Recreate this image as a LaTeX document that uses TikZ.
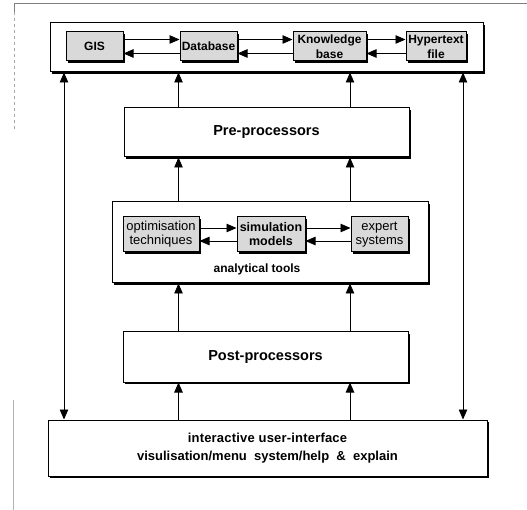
\documentclass[tikz,border=0pt]{standalone}
\usepackage{fontspec}
\setmainfont{Liberation Sans}
\newfontfamily\lsfont[LetterSpace=1.5]{Liberation Sans}
\usetikzlibrary{arrows.meta,shadows}
\begin{document}
\begin{tikzpicture}[x=1pt,y=-1pt,
  box/.style={draw=black,line width=1pt,fill=white,inner sep=0pt,
    drop shadow={shadow xshift=1.6pt,shadow yshift=-1.6pt,fill=black,opacity=1}},
  gbox/.style={box,fill=gray!30,align=center,font=\fontsize{12}{15}\selectfont\bfseries},
  abox/.style={box,fill=gray!30,align=center,font=\fontsize{13}{14}\selectfont},
  tip/.tip={Triangle[length=10pt,width=8.5pt]},
  tri/.style={-tip},
  lnk/.style={line width=0.8pt},
  big/.style={font=\fontsize{14.5}{18}\selectfont\bfseries}
]
\useasboundingbox (0,0) rectangle (527,510);
% scan frame
\draw[gray,line width=0.8pt] (14,12) -- (14,3) -- (527,3);
\draw[gray!70,line width=0.6pt,dashed] (14,12) -- (14,130);
\draw[gray!60,line width=0.6pt] (13,400) -- (13,510);
% top row
\node[box,minimum width=433pt,minimum height=49pt] (top) at (266.5,47.5) {};
\node[gbox,minimum width=57pt,minimum height=29pt] (gis) at (94.5,46.5) {GIS};
\node[gbox,minimum width=57pt,minimum height=29pt] (db) at (208.5,46.5) {Database};
\node[gbox,minimum width=73pt,minimum height=29pt] (kb) at (329.5,46.5) {Knowledge\\base};
\node[gbox,minimum width=60pt,minimum height=29pt] (ht) at (436,46.5) {Hypertext\\file};
\foreach \a/\b in {gis/db,db/kb,kb/ht}{
  \draw[lnk,tri] ([yshift=7pt]\a.east) -- ([yshift=7pt]\b.west);
  \draw[lnk,tri] ([yshift=-7pt]\b.west) -- ([yshift=-7pt]\a.east);
}
% pre-processors
\node[box,big,minimum width=285pt,minimum height=49pt] (pre) at (266.5,132.5) {Pre-processors};
% analytical tools
\node[box,minimum width=316pt,minimum height=81pt] (ana) at (270,242.5) {};
\node[abox,minimum width=76pt,minimum height=35pt] (opt) at (161,234.5) {optimisation\\techniques};
\node[abox,minimum width=68pt,minimum height=35pt,font=\fontsize{12.5}{14}\selectfont\bfseries] (sim) at (271,234.5) {simulation\\models};
\node[abox,minimum width=57pt,minimum height=35pt] (exp) at (379.5,234.5) {expert\\systems};
\foreach \a/\b in {opt/sim,sim/exp}{
  \draw[lnk,tri] ([yshift=6.5pt]\a.east) -- ([yshift=6.5pt]\b.west);
  \draw[lnk,tri] ([yshift=-6.5pt]\b.west) -- ([yshift=-6.5pt]\a.east);
}
\node[font=\fontsize{12}{14}\selectfont\bfseries] (analbl) at (257,269) {analytical tools};
% post-processors
\node[box,big,minimum width=285pt,minimum height=50pt] (post) at (265.5,357) {Post-processors};
% user interface
\node[box,minimum width=439pt,minimum height=56pt,align=center,font=\fontsize{13}{18}\selectfont\bfseries] (ui) at (267.5,448)
  {{\lsfont interactive user-interface}\\visulisation/menu\ \ system/help\ \ \&\ \ explain};
% vertical connectors
\coordinate (xa) at (178.5,0);
\coordinate (xb) at (350,0);
\coordinate (xl) at (64,0);
\coordinate (xr) at (463,0);
\draw[lnk,tri] (pre.north -| xa) -- (top.south -| xa);
\draw[lnk,tri] (pre.north -| xb) -- (top.south -| xb);
\draw[lnk,tri] (ana.north -| xa) -- (pre.south -| xa);
\draw[lnk,tri] (ana.north -| xb) -- (pre.south -| xb);
\draw[lnk,tri] (post.north -| xa) -- (ana.south -| xa);
\draw[lnk,tri] (post.north -| xb) -- (ana.south -| xb);
\draw[lnk,tri] (ui.north -| xa) -- (post.south -| xa);
\draw[lnk,tri] (ui.north -| xb) -- (post.south -| xb);
\draw[lnk,tip-tip] (top.south -| xl) -- (ui.north -| xl);
\draw[lnk,tip-tip] (top.south -| xr) -- (ui.north -| xr);
\end{tikzpicture}
\end{document}
